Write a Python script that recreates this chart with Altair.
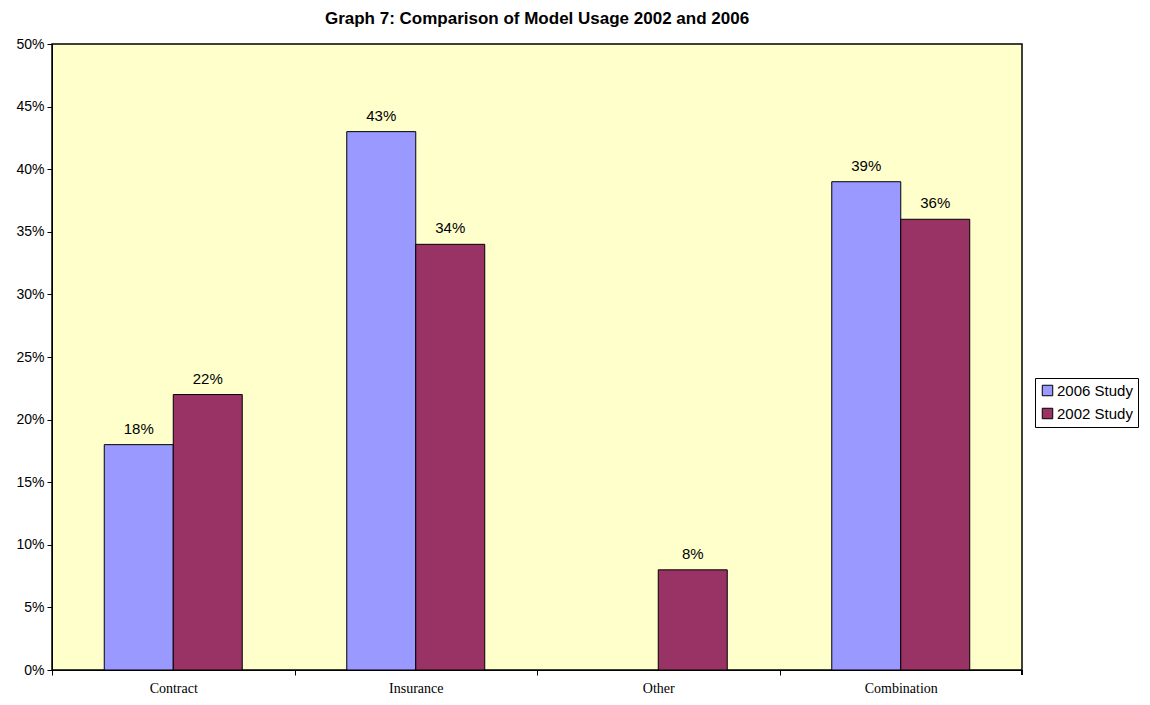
import altair as alt
import pandas as pd

categories = ["Contract", "Insurance", "Other", "Combination"]
series = ["2006 Study", "2002 Study"]
values_2006 = [18, 43, 0, 39]
values_2002 = [22, 34, 8, 36]
colors = ["#9999FF", "#993366"]

rows = []
for c, a, b in zip(categories, values_2006, values_2002):
    rows.append({"category": c, "series": series[0], "value": a / 100})
    rows.append({"category": c, "series": series[1], "value": b / 100})
df = pd.DataFrame(rows)

W, H = 970, 626
step = W / len(categories)

x = alt.X("category:N", sort=categories, title=None,
          scale=alt.Scale(paddingInner=0.431, paddingOuter=0.2155),
          axis=alt.Axis(labelAngle=0, tickOffset=-step / 2, labelOffset=step / 2,
                        labelFont="Liberation Serif", tickWidth=1,
                        labelFontSize=14, labelColor="black", labelPadding=6,
                        domainColor="black", tickColor="black", tickSize=5, grid=False))
xo = alt.XOffset("series:N", sort=series)
y = alt.Y("value:Q", title=None,
          scale=alt.Scale(domain=[0, 0.5], nice=False),
          axis=alt.Axis(format=".0%", values=[i / 100 for i in range(0, 51, 5)],
                        labelFont="Liberation Sans", labelFontSize=14, labelColor="black",
                        domainColor="black", tickColor="black", tickSize=5, grid=False,
                        labelPadding=3))

base = alt.Chart(df).transform_filter("datum.value > 0")

bars = base.mark_bar(stroke="black", strokeWidth=1).encode(
    x=x, xOffset=xo, y=y,
    color=alt.Color("series:N", sort=series,
                    scale=alt.Scale(domain=series, range=colors),
                    legend=alt.Legend(title=None, orient="none", legendX=983, legendY=334,
                                      symbolType="square", symbolSize=110,
                                      symbolStrokeColor="black", symbolStrokeWidth=1,
                                      labelFont="Liberation Sans", labelFontSize=15,
                                      labelColor="black", strokeColor="black",
                                      padding=5, rowPadding=7, labelOffset=2)),
)

labels = base.mark_text(dy=-16, font="Liberation Sans", fontSize=15, color="black").encode(
    x=x, xOffset=xo, y=y,
    text=alt.Text("value:Q", format=".0%"),
)

# closing tick at the right end of the category axis
end_tick = alt.Chart(df).mark_rule(color="black").encode(
    x=alt.value(W), y=alt.value(H), y2=alt.value(H + 5)
)

chart = alt.layer(bars, labels, end_tick).properties(
    width=W, height=H,
    title=alt.Title("Graph 7: Comparison of Model Usage 2002 and 2006",
                    font="Liberation Sans", fontSize=17, fontWeight="bold", color="black",
                    anchor="middle", frame="group", offset=9),
    autosize=alt.AutoSizeParams(type="none"),
    padding={"left": 44, "top": 36, "right": 120, "bottom": 27},
    background="white",
).configure_view(fill="#FFFFCC", stroke="black", strokeWidth=1.5)

chart.save("out.html", embed_options={"renderer": "svg", "actions": False})
